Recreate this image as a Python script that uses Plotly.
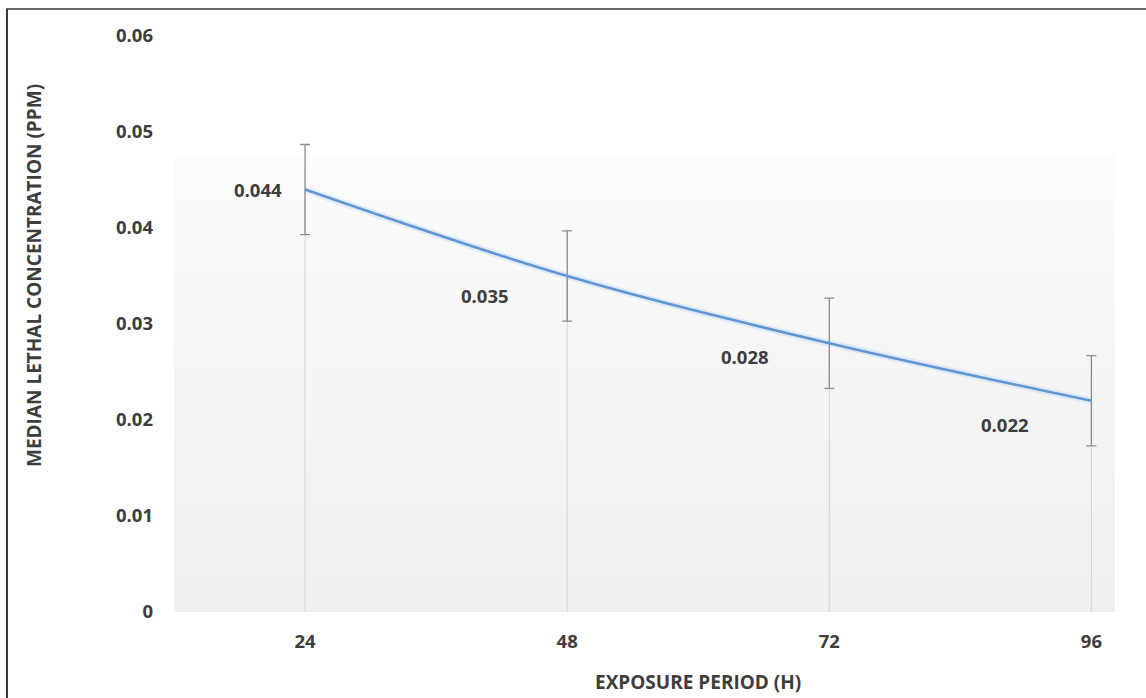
import plotly.graph_objects as go

# ---- data ----
periods = ["24", "48", "72", "96"]
lc50 = [0.044, 0.035, 0.028, 0.022]
err = [0.0047, 0.0047, 0.0047, 0.0047]
label_dx = [-47, -82, -84, -86]
label_dy = [0, -19, -13, -24]
y_ticks = [0, 0.01, 0.02, 0.03, 0.04, 0.05, 0.06]
y_ticktext = ["0", "0.01", "0.02", "0.03", "0.04", "0.05", "0.06"]

TXT = "#3d3d3d"
FONT = "Open Sans"
FS = 18.5

fig = go.Figure()

# drop lines from axis to each point
dx, dy = [], []
for p, v in zip(periods, lc50):
    dx += [p, p, None]
    dy += [0, v, None]
fig.add_trace(go.Scatter(x=dx, y=dy, mode="lines",
                         line=dict(color="#d4d4d4", width=1),
                         hoverinfo="skip", showlegend=False))

# faint glow under the line
fig.add_trace(go.Scatter(x=periods, y=lc50, mode="lines",
                         line=dict(color="rgba(190,215,245,0.4)", width=7, shape="spline"),
                         hoverinfo="skip", showlegend=False))

# main line with error bars
fig.add_trace(go.Scatter(
    x=periods, y=lc50, mode="lines",
    line=dict(color="#6196d4", width=2.6, shape="spline"),
    error_y=dict(type="data", array=err, visible=True,
                 color="#8a8a8a", thickness=1.3, width=5),
    showlegend=False))

# gradient background of the plot area (layout shapes)
n = 40
top = 0.793
shapes = []
for i in range(n):
    y0 = top * i / n
    y1 = top * (i + 1) / n
    t = i / (n - 1)  # 0 bottom -> 1 top
    c = int(239 + (252 - 239) * t)
    shapes.append(dict(type="rect", xref="paper", yref="paper",
                       x0=0, x1=1, y0=y0, y1=y1 + 0.002,
                       fillcolor=f"rgb({c},{c},{c})", line=dict(width=0),
                       layer="below"))
# outer border (left and top visible)
shapes.append(dict(type="line", xref="paper", yref="paper",
                   x0=(7 - 174) / 941, x1=(7 - 174) / 941,
                   y0=(612 - 700) / 576, y1=(612 - 9) / 576,
                   line=dict(color="#3a3a3a", width=2)))
shapes.append(dict(type="line", xref="paper", yref="paper",
                   x0=(6 - 174) / 941, x1=(1150 - 174) / 941,
                   y0=(612 - 9) / 576, y1=(612 - 9) / 576,
                   line=dict(color="#3a3a3a", width=1.5)))

annotations = []
for i, (v, ddx, ddy) in enumerate(zip(lc50, label_dx, label_dy)):
    annotations.append(dict(x=i, y=v, xref="x", yref="y",
                            text=f"{v:.3f}", showarrow=False,
                            xshift=ddx, yshift=ddy,
                            font=dict(family=FONT, size=FS, color=TXT, weight="bold")))
annotations.append(dict(text="MEDIAN LETHAL CONCENTRATION (PPM)",
                        xref="paper", yref="paper",
                        x=(34 - 174) / 941, y=(612 - 276) / 576,
                        xanchor="center", yanchor="middle", textangle=-90,
                        showarrow=False,
                        font=dict(family=FONT, size=19, color=TXT, weight="bold")))
annotations.append(dict(text="EXPOSURE PERIOD (H)",
                        xref="paper", yref="paper",
                        x=(698 - 174) / 941, y=(612 - 682) / 576,
                        xanchor="center", yanchor="middle",
                        showarrow=False,
                        font=dict(family=FONT, size=19, color=TXT, weight="bold")))

fig.update_layout(
    width=1146, height=698,
    margin=dict(l=174, r=31, t=36, b=86),
    paper_bgcolor="white", plot_bgcolor="rgba(0,0,0,0)",
    shapes=shapes, annotations=annotations,
    showlegend=False,
)
fig.update_xaxes(type="category", range=[-0.5, 3.09],
                 showgrid=False, zeroline=False, showline=False,
                 ticks="", ticklabelstandoff=16,
                 tickfont=dict(family=FONT, size=FS, color=TXT, weight="bold"))
fig.update_yaxes(range=[0, 0.06], tickvals=y_ticks, ticktext=y_ticktext,
                 showgrid=False, zeroline=False, showline=False,
                 ticks="", ticklabelstandoff=20,
                 tickfont=dict(family=FONT, size=FS, color=TXT, weight="bold"))

fig.write_html("out.html")
